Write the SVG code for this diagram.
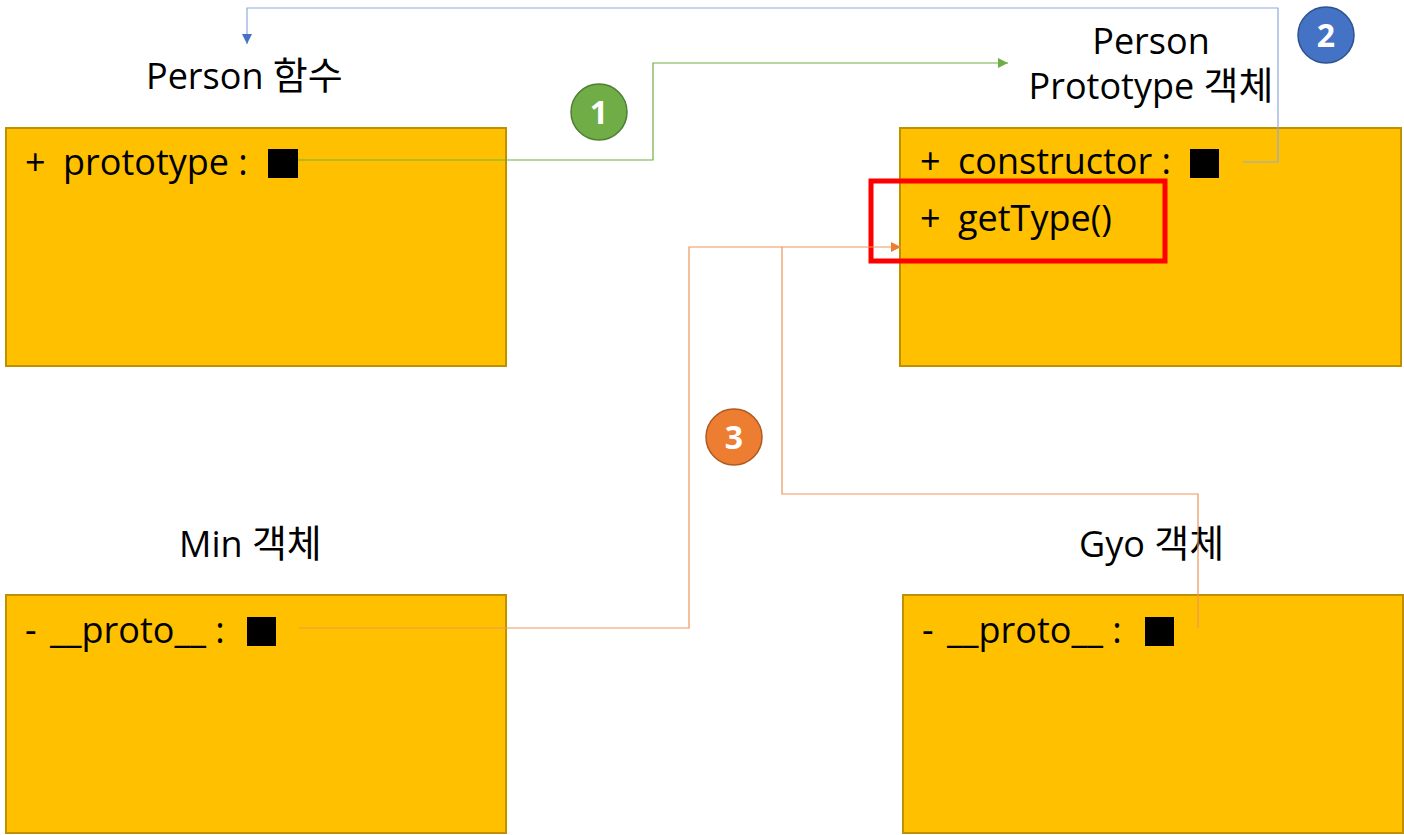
<svg xmlns="http://www.w3.org/2000/svg" width="1404" height="835" viewBox="0 0 1404 835">
<style>
.box{fill:#FFC000;stroke:#BF9000;stroke-width:2}
.t{font-family:"Open Sans","Noto Sans CJK KR",sans-serif;font-size:36px;fill:#000}
.badge-t{font-family:"Open Sans","Noto Sans CJK KR",sans-serif;font-size:32px;font-weight:bold;fill:#fff;text-anchor:middle}
.c{fill:none;stroke-width:1.2}
.k{font-size:38px}
</style>
<defs>
<marker id="ag" viewBox="0 0 10 10" refX="10" refY="5" markerWidth="10" markerHeight="10" markerUnits="userSpaceOnUse" orient="auto"><path d="M0,0 L10,5 L0,10 z" fill="#70AD47"/></marker>
<marker id="ab" viewBox="0 0 10 10" refX="10" refY="5" markerWidth="10" markerHeight="10" markerUnits="userSpaceOnUse" orient="auto"><path d="M0,0 L10,5 L0,10 z" fill="#4472C4"/></marker>
<marker id="ao" viewBox="0 0 10 10" refX="10" refY="5" markerWidth="10" markerHeight="10" markerUnits="userSpaceOnUse" orient="auto"><path d="M0,0 L10,5 L0,10 z" fill="#ED7D31"/></marker>
</defs>
<rect width="1404" height="835" fill="#fff"/>

<g id="person-func">
<text class="t" x="146" y="89">Person <tspan class="k">함수</tspan></text>
<rect class="box" x="6" y="128" width="500" height="238"/>
<text class="t" x="25" y="175">+</text>
<text class="t" x="63" y="175">prototype :</text>
<rect x="268" y="149" width="30" height="29" fill="#000"/>
</g>

<g id="person-prototype">
<text class="t" x="1151" y="54" text-anchor="middle">Person</text>
<text class="t" x="1151" y="99" text-anchor="middle">Prototype <tspan class="k">객체</tspan></text>
<rect class="box" x="900" y="128" width="501" height="238"/>
<text class="t" x="920" y="174">+</text>
<text class="t" x="958" y="174">constructor :</text>
<rect x="1190" y="149" width="29" height="29" fill="#000"/>
<text class="t" x="920" y="231">+</text>
<text class="t" x="958" y="231">getType()</text>
<rect x="871" y="181" width="294" height="80" fill="none" stroke="#FF0000" stroke-width="5"/>
</g>

<g id="min-obj">
<text class="t" x="179" y="557">Min <tspan class="k">객체</tspan></text>
<rect class="box" x="6" y="595" width="500" height="238"/>
<text class="t" x="25" y="643">-</text>
<text class="t" x="50" y="643">__proto__ :</text>
<rect x="247" y="617" width="29" height="29" fill="#000"/>
</g>

<g id="gyo-obj">
<text class="t" x="1079" y="557">Gyo <tspan class="k">객체</tspan></text>
<rect class="box" x="903" y="595" width="500" height="238"/>
<text class="t" x="922" y="643">-</text>
<text class="t" x="947" y="643">__proto__ :</text>
<rect x="1145" y="617" width="29" height="29" fill="#000"/>
</g>

<g id="connectors">
<path class="c" d="M298,160 H653 V63 H1008" stroke="#70AD47" marker-end="url(#ag)"/>
<path class="c" d="M1243,162 H1278 V8 H247 V44" stroke="#8FAADC" marker-end="url(#ab)"/>
<path class="c" d="M299,628 H689 V247 H901" stroke="#F0955A" marker-end="url(#ao)"/>
<path class="c" d="M1198,628 V494 H782 V247" stroke="#F0955A"/>
</g>

<g id="badge1">
<circle cx="599" cy="112" r="28" fill="#70AD47" stroke="#507E32" stroke-width="1.5"/>
<text class="badge-t" x="599" y="124">1</text>
</g>
<g id="badge2">
<circle cx="1326" cy="35" r="28" fill="#4472C4" stroke="#2F528F" stroke-width="1.5"/>
<text class="badge-t" x="1326" y="47">2</text>
</g>
<g id="badge3">
<circle cx="734" cy="437" r="28" fill="#ED7D31" stroke="#AE5A21" stroke-width="1.5"/>
<text class="badge-t" x="734" y="449">3</text>
</g>
</svg>
